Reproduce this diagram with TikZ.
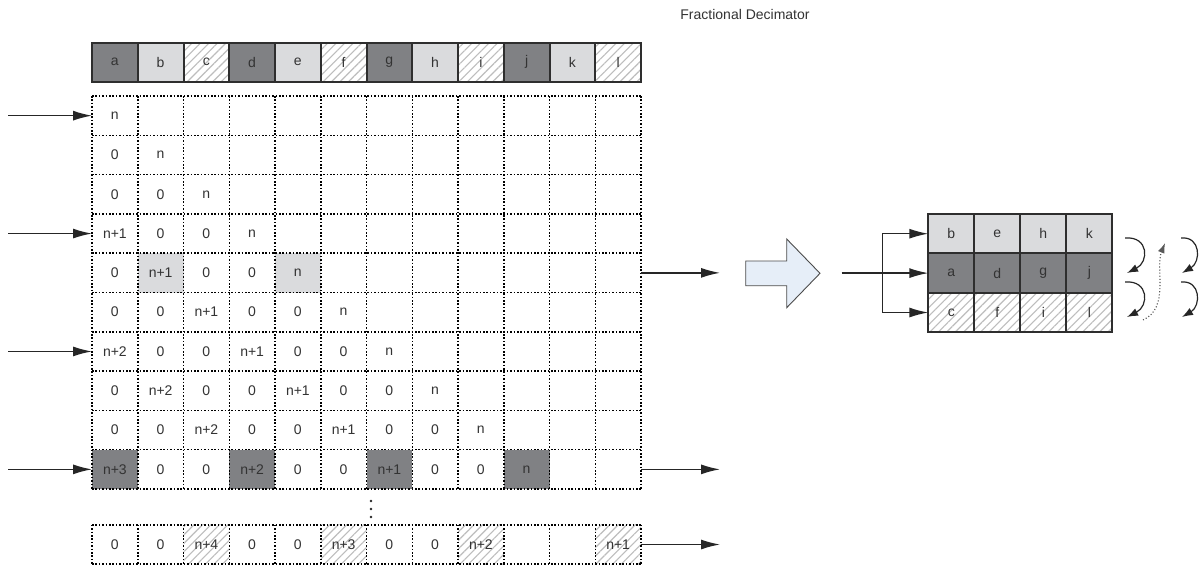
\documentclass[tikz,border=0pt]{standalone}
\usepackage{fontspec}
\setmainfont{Liberation Sans}
\usetikzlibrary{arrows.meta,patterns.meta}
\definecolor{dk}{HTML}{808184}
\definecolor{lt}{HTML}{DADBDD}
\definecolor{hatchc}{HTML}{BDBDBD}
\definecolor{edgec}{HTML}{2E2E2E}
\definecolor{blockblue}{HTML}{E6EEF8}
\tikzset{
  cell/.style={minimum width=45.75pt, minimum height=39.3pt, inner sep=0pt, outer sep=0pt,
    font=\fontsize{14}{16}\selectfont, text=black!80},
  dcell/.style={cell},
  dline/.style={draw=black, line width=1.5pt, dash pattern=on 1.5pt off 1.9pt},
  scell/.style={cell, draw=edgec, line width=2pt},
  rcell/.style={scell, minimum width=46pt, minimum height=39.4pt},
  cp/.style={},
  cd/.style={fill=dk},
  cl/.style={fill=lt},
  ch/.style={pattern={Lines[angle=45,distance=6pt,line width=1.1pt]}, pattern color=hatchc},
  arr/.style={-{Latex[length=19pt,width=10pt]}, line width=1.4pt, draw=black!85},
  carr/.style={-{Latex[length=11pt,width=8pt]}, line width=1.2pt, draw=black!85},
}
\newcommand\gridrow[3]{%
  \foreach \lab/\sty [count=\c] in {#3} {
    \node[dcell,\sty] (g#1-\c) at ({92+(\c-0.5)*45.75}, #2) {\lab};
  }%
}
\begin{document}
\begin{tikzpicture}[x=1pt,y=-1pt]
\fill[white] (0,0) rectangle (1199,566);
\useasboundingbox (0,0) rectangle (1199,566);

\node[font=\fontsize{14}{16}\selectfont, text=black!80] (title) at (745,14) {Fractional Decimator};

% top row
\foreach \lab/\sty [count=\c] in {a/cd,b/cl,c/ch,d/cd,e/cl,f/ch,g/cd,h/cl,i/ch,j/cd,k/cl,l/ch} {
  \node[scell,\sty] (t\c) at ({92+(\c-0.5)*45.75}, 62.2) {\lab};
}

% grid
\gridrow{1}{115.65}{n/cp,{}/cp,{}/cp,{}/cp,{}/cp,{}/cp,{}/cp,{}/cp,{}/cp,{}/cp,{}/cp,{}/cp}
\gridrow{2}{154.95}{0/cp,n/cp,{}/cp,{}/cp,{}/cp,{}/cp,{}/cp,{}/cp,{}/cp,{}/cp,{}/cp,{}/cp}
\gridrow{3}{194.25}{0/cp,0/cp,n/cp,{}/cp,{}/cp,{}/cp,{}/cp,{}/cp,{}/cp,{}/cp,{}/cp,{}/cp}
\gridrow{4}{233.55}{n+1/cp,0/cp,0/cp,n/cp,{}/cp,{}/cp,{}/cp,{}/cp,{}/cp,{}/cp,{}/cp,{}/cp}
\gridrow{5}{272.85}{0/cp,n+1/cl,0/cp,0/cp,n/cl,{}/cp,{}/cp,{}/cp,{}/cp,{}/cp,{}/cp,{}/cp}
\gridrow{6}{312.15}{0/cp,0/cp,n+1/cp,0/cp,0/cp,n/cp,{}/cp,{}/cp,{}/cp,{}/cp,{}/cp,{}/cp}
\gridrow{7}{351.45}{n+2/cp,0/cp,0/cp,n+1/cp,0/cp,0/cp,n/cp,{}/cp,{}/cp,{}/cp,{}/cp,{}/cp}
\gridrow{8}{390.75}{0/cp,n+2/cp,0/cp,0/cp,n+1/cp,0/cp,0/cp,n/cp,{}/cp,{}/cp,{}/cp,{}/cp}
\gridrow{9}{430.05}{0/cp,0/cp,n+2/cp,0/cp,0/cp,n+1/cp,0/cp,0/cp,n/cp,{}/cp,{}/cp,{}/cp}
\gridrow{10}{469.35}{n+3/cd,0/cp,0/cp,n+2/cd,0/cp,0/cp,n+1/cd,0/cp,0/cp,n/cd,{}/cp,{}/cp}
\gridrow{b}{544.5}{0/cp,0/cp,n+4/ch,0/cp,0/cp,n+3/ch,0/cp,0/cp,n+2/ch,{}/cp,{}/cp,n+1/ch}

% dotted grid lines
\foreach \r in {1,...,10} \draw[dline] (g\r-1.north west) -- (g\r-12.north east);
\draw[dline] (g10-1.south west) -- (g10-12.south east);
\foreach \c in {1,...,12} \draw[dline] (g1-\c.north west) -- (g10-\c.south west);
\draw[dline] (g1-12.north east) -- (g10-12.south east);
\draw[dline] (gb-1.north west) -- (gb-12.north east);
\draw[dline] (gb-1.south west) -- (gb-12.south east);
\foreach \c in {1,...,12} \draw[dline] (gb-\c.north west) -- (gb-\c.south west);
\draw[dline] (gb-12.north east) -- (gb-12.south east);

% vertical ellipsis
\node[inner sep=0pt] (vdots) at (371,509) {};
\foreach \yy in {501,509,517} \fill[black!85] (371,\yy) circle (1.4pt);

% input arrows
\foreach \r/\yy in {1/115.65,4/233.55,7/351.45,10/469.35} {
  \coordinate (in\r) at (8,\yy);
  \draw[arr] (in\r) -- (g\r-1.west);
}
% output arrows
\coordinate (out5) at (720,272.85);
\coordinate (out10) at (720,469.35);
\coordinate (outb) at (720,544.5);
\draw[arr] (g5-12.east) -- (out5);
\draw[arr] (g10-12.east) -- (out10);
\draw[arr] (gb-12.east) -- (outb);

% block arrow
\draw[fill=blockblue, draw=black!70, line width=0.9pt]
  (745.7,261) -- (786.7,261) -- (786.7,239) -- (820,273.3) -- (786.7,307.7)
  -- (786.7,285.7) -- (745.7,285.7) -- cycle;

% right block
\foreach \lab/\sty [count=\c] in {b/cl,e/cl,h/cl,k/cl} {
  \node[rcell,\sty] (r1-\c) at ({928.3+(\c-0.5)*46}, 233.7) {\lab};
}
\foreach \lab/\sty [count=\c] in {a/cd,d/cd,g/cd,j/cd} {
  \node[rcell,\sty] (r2-\c) at ({928.3+(\c-0.5)*46}, 273.1) {\lab};
}
\foreach \lab/\sty [count=\c] in {c/ch,f/ch,i/ch,l/ch} {
  \node[rcell,\sty] (r3-\c) at ({928.3+(\c-0.5)*46}, 312.5) {\lab};
}

% input to right block
\coordinate (rin) at (841.7,273.1);
\coordinate (br) at (882.7,273.1);
\draw[arr] (rin) -- (r2-1.west);
\draw[arr] (br) |- (r1-1.west);
\draw[arr] (br) |- (r3-1.west);

% curved arrows
\coordinate (c1s) at (1125,238);   \coordinate (c1e) at (1127,273);
\coordinate (c2s) at (1125,282);   \coordinate (c2e) at (1127,317);
\coordinate (c3s) at (1181,238);   \coordinate (c3e) at (1182,273);
\coordinate (c4s) at (1181,282);   \coordinate (c4e) at (1182,317);
\draw[carr] (c1s) .. controls (1149,236) and (1149,262) .. (c1e);
\draw[carr] (c2s) .. controls (1149,280) and (1149,306) .. (c2e);
\draw[carr] (c3s) .. controls (1201,236) and (1201,262) .. (c3e);
\draw[carr] (c4s) .. controls (1201,280) and (1201,306) .. (c4e);
\coordinate (ds) at (1143,320);
\coordinate (de) at (1165,243);
\draw[-{Latex[length=10pt,width=7pt]}, dotted, line width=1.1pt, draw=black!65]
  (ds) .. controls (1170,308) and (1155,268) .. (de);
\end{tikzpicture}
\end{document}
